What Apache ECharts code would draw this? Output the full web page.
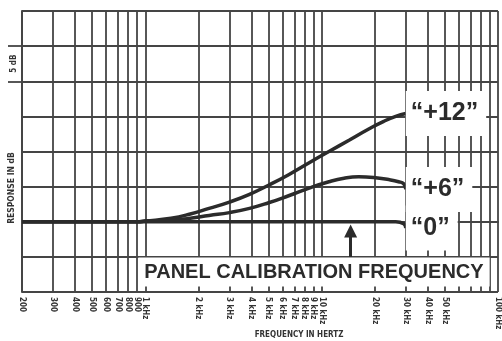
<!DOCTYPE html>
<html lang="en">
<head>
<meta charset="UTF-8">
<title>Panel calibration frequency</title>
<style>
  *{ padding:0; margin:0; }
  body{ background:#fff; }
</style>
<script src="https://cdn.jsdelivr.net/npm/echarts@6/dist/echarts.min.js"></script>
</head>
<body>
<div id="main" style="width:502px;height:341px;"></div>
<script>
// grid line frequencies (Hz), log paper
var gridFreqs = [200, 300, 400, 500, 600, 700, 800, 900,
  1000, 2000, 3000, 4000, 5000, 6000, 7000, 8000, 9000,
  10000, 20000, 30000, 40000, 50000, 60000, 70000, 80000, 90000, 100000];
// labelled frequencies and their labels
var labelFreqs = [200, 300, 400, 500, 600, 700, 800, 900,
  1000, 2000, 3000, 4000, 5000, 6000, 7000, 8000, 9000,
  10000, 20000, 30000, 40000, 50000, 100000];
var tickLabels = ['200', '300', '400', '500', '600', '700', '800', '900',
  '1 kHz', '2 kHz', '3 kHz', '4 kHz', '5 kHz', '6 kHz', '7 kHz', '8 kHz', '9 kHz',
  '10 kHz', '20 kHz', '30 kHz', '40 kHz', '50 kHz', '100 kHz'];

// curves: [frequency Hz, response dB]
var plus12 = [[200, 0], [700, 0], [900, 0], [1000, 0.1], [1400, 0.5], [1800, 1.1],
  [2300, 1.9], [3000, 2.8], [3900, 3.9], [5000, 5.2], [6500, 6.7], [8500, 8.4],
  [11000, 10.0], [14300, 11.6], [18500, 13.2], [22500, 14.3], [26300, 15.0], [30000, 15.4]];
var plus6 = [[200, 0], [700, 0], [900, 0], [1000, 0.1], [1400, 0.2], [1800, 0.5],
  [2300, 0.9], [3000, 1.3], [3900, 1.9], [5000, 2.7], [6500, 3.7], [8500, 4.8],
  [11000, 5.7], [13400, 6.2], [16200, 6.4], [19700, 6.3], [24000, 6.0], [27300, 5.7],
  [29200, 5.4], [30000, 4.6]];
var flat = [[200, 0], [5000, 0], [20000, 0], [26300, 0], [29200, -0.3], [30000, -0.9]];

var calFreq = 14600;       // arrow position
var arrowDb = [-5, -1.3];  // arrow from / to

var ink = '#2b2b2b';
var gridInk = '#454545';

var myChart = echarts.init(document.getElementById('main'));

function curve(name, data) {
  return {
    name: name,
    type: 'line',
    data: data,
    smooth: true,
    showSymbol: false,
    symbol: 'none',
    color: ink,
    lineStyle: { width: 3.5, color: ink },
    z: 3,
    endLabel: {
      show: true,
      formatter: name,
      distance: 0,
      backgroundColor: '#fff',
      padding: [10, 8, 10, 5],
      fontFamily: 'Liberation Sans',
      fontWeight: 'bold',
      fontSize: 25,
      color: ink
    }
  };
}

var flatSeries = curve('\u201c0\u201d', flat);
flatSeries.markLine = {
  silent: true,
  symbol: ['none', 'triangle'],
  symbolSize: 13,
  label: { show: false },
  lineStyle: { color: ink, width: 3, type: 'solid' },
  data: [[{ coord: [calFreq, arrowDb[0]] }, { coord: [calFreq, arrowDb[1]] }]]
};

var labelFont = 'DejaVu Sans Condensed';

var option = {
  animation: false,
  backgroundColor: '#fff',
  grid: { left: 22, right: 2, top: 11, bottom: 49 },
  xAxis: {
    type: 'log',
    logBase: 10,
    min: 200,
    max: 100000,
    axisLine: { show: true, lineStyle: { color: gridInk, width: 2 } },
    axisTick: { show: false, customValues: gridFreqs },
    splitLine: { show: true, lineStyle: { color: gridInk, width: 1.8 } },
    axisLabel: {
      customValues: labelFreqs,
      rotate: -90,
      margin: 5,
      fontFamily: labelFont,
      fontWeight: 'bold',
      fontSize: 8,
      color: '#333',
      formatter: function (v) {
        var i = labelFreqs.indexOf(Math.round(v));
        return i >= 0 ? tickLabels[i] : '';
      }
    }
  },
  yAxis: [{
    type: 'value',
    min: -10,
    max: 30,
    interval: 5,
    axisLine: { show: true, lineStyle: { color: gridInk, width: 2 } },
    axisTick: { show: false },
    axisLabel: { show: false },
    splitLine: { show: true, lineStyle: { color: gridInk, width: 1.8 } }
  }, {
    type: 'value',
    position: 'left',
    min: -10,
    max: 30,
    interval: 5,
    axisLine: { show: false },
    splitLine: { show: false },
    axisTick: { show: true, customValues: [20, 25], length: 14, lineStyle: { color: gridInk, width: 1.8 } },
    axisLabel: {
      customValues: [22.5],
      formatter: function () { return '5 dB'; },
      rotate: 90,
      margin: 4,
      fontFamily: labelFont,
      fontWeight: 'bold',
      fontSize: 8,
      color: '#333'
    }
  }],
  graphic: [{
    type: 'text',
    x: 12,
    y: 188,
    rotation: Math.PI / 2,
    style: {
      text: 'RESPONSE IN dB',
      fill: '#333',
      font: 'bold 8.5px "DejaVu Sans Condensed"',
      align: 'center',
      verticalAlign: 'middle'
    }
  }, {
    type: 'text',
    x: 299,
    y: 335,
    style: {
      text: 'FREQUENCY IN HERTZ',
      fill: '#333',
      font: 'bold 8px "DejaVu Sans Condensed"',
      align: 'center',
      verticalAlign: 'middle'
    }
  }, {
    type: 'text',
    x: 314,
    y: 272,
    z: 100,
    style: {
      text: 'PANEL CALIBRATION FREQUENCY',
      fill: ink,
      font: 'bold 20px "Liberation Sans"',
      align: 'center',
      verticalAlign: 'middle',
      backgroundColor: '#fff',
      padding: [5, 6, 4, 6]
    }
  }],
  series: [
    curve('\u201c+12\u201d', plus12),
    curve('\u201c+6\u201d', plus6),
    flatSeries
  ]
};

myChart.setOption(option);
</script>
</body>
</html>
